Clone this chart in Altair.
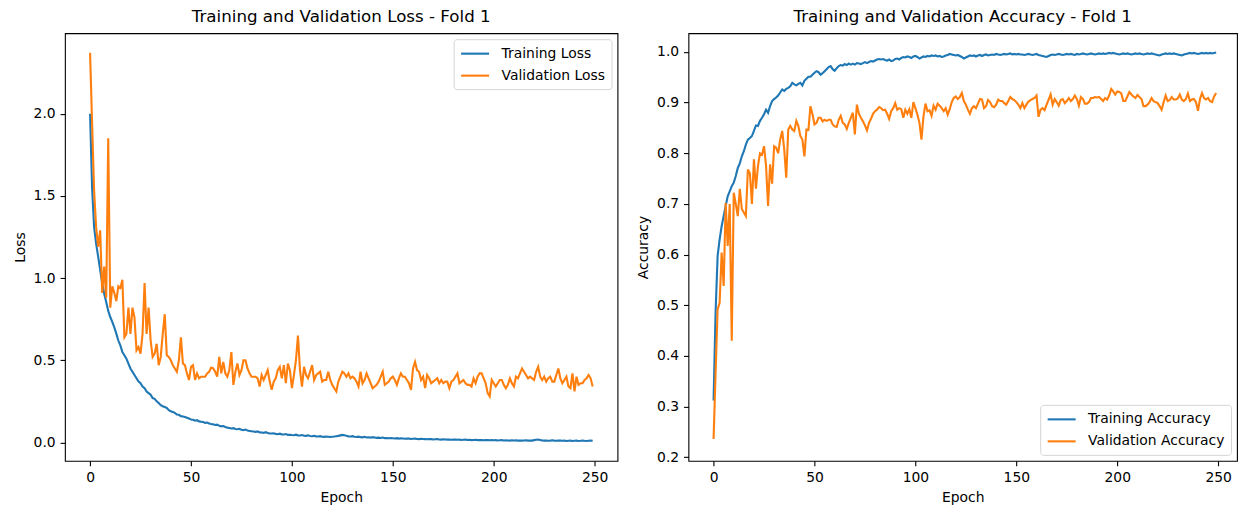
import altair as alt
import pandas as pd

# ---------------- data ----------------
train_loss = [
    2.00, 1.55, 1.31, 1.21, 1.13, 1.05, 0.97, 0.905, 0.855, 0.80,
    0.763, 0.733, 0.70, 0.662, 0.62, 0.59, 0.55, 0.53, 0.51, 0.48,
    0.45, 0.43, 0.41, 0.39, 0.37, 0.36, 0.34, 0.33, 0.31, 0.30,
    0.29, 0.27, 0.265, 0.25, 0.24, 0.227, 0.22, 0.215, 0.21, 0.196,
    0.19, 0.185, 0.18, 0.17, 0.168, 0.16, 0.158, 0.155, 0.15, 0.145,
    0.14,
    0.138, 0.132, 0.135, 0.128, 0.126, 0.124, 0.119, 0.121, 0.115, 0.112,
    0.110, 0.106, 0.108, 0.101, 0.098, 0.100, 0.094, 0.090, 0.088, 0.085,
    0.087, 0.082, 0.080, 0.083, 0.077, 0.074, 0.078, 0.072, 0.070, 0.068,
    0.066, 0.064, 0.067, 0.061, 0.060, 0.058, 0.062, 0.057, 0.055, 0.054,
    0.056, 0.052, 0.050, 0.053, 0.049, 0.048, 0.051, 0.046, 0.047, 0.045,
    0.044, 0.047, 0.043, 0.042, 0.045, 0.041, 0.040, 0.043, 0.039, 0.038,
    0.040, 0.037, 0.036, 0.038, 0.035, 0.034, 0.036, 0.035, 0.033, 0.035,
    0.036, 0.038, 0.040, 0.043, 0.046, 0.044, 0.040, 0.037, 0.036, 0.038,
    0.034, 0.033, 0.035, 0.032, 0.031, 0.034, 0.030, 0.031, 0.029, 0.032,
    0.030, 0.028, 0.029, 0.027, 0.030, 0.026, 0.027, 0.025, 0.026, 0.025,
    0.024, 0.026, 0.023, 0.025, 0.024, 0.022, 0.023, 0.024, 0.021, 0.022,
    0.023, 0.021, 0.020, 0.022, 0.021, 0.020, 0.019, 0.021, 0.020, 0.018,
    0.019, 0.020, 0.018, 0.017, 0.019, 0.018, 0.017, 0.018, 0.016, 0.017,
    0.018, 0.016, 0.017, 0.015, 0.016, 0.017, 0.015, 0.016, 0.014, 0.015,
    0.016, 0.014, 0.015, 0.014, 0.013, 0.015, 0.014, 0.013, 0.014, 0.013,
    0.014, 0.012, 0.013, 0.014, 0.012, 0.013, 0.012, 0.011, 0.013, 0.012,
    0.013, 0.011, 0.012, 0.011, 0.012, 0.013, 0.011, 0.012, 0.011, 0.014,
    0.016, 0.018, 0.015, 0.012, 0.011, 0.012, 0.010, 0.011, 0.013, 0.011,
    0.010, 0.012, 0.011, 0.010, 0.011, 0.009, 0.010, 0.011, 0.009, 0.010,
    0.011, 0.009, 0.010, 0.012, 0.010, 0.009, 0.010, 0.011, 0.010,
]

val_loss = [
    2.37, 1.94, 1.53, 1.31, 1.19, 1.29, 0.91, 1.07, 0.88, 1.85,
    0.82, 0.95, 0.91, 0.86, 0.95, 0.94, 0.99, 0.64, 0.66, 0.82,
    0.66, 0.82, 0.76, 0.56, 0.58, 0.54, 0.66, 0.97, 0.66, 0.82,
    0.62, 0.52, 0.54, 0.60, 0.47, 0.52, 0.66, 0.78, 0.53, 0.52,
    0.50, 0.47, 0.45, 0.43, 0.50, 0.64, 0.48, 0.47, 0.42, 0.38,
    0.46, 0.47, 0.38, 0.42, 0.39,
    0.40, 0.40, 0.40, 0.42, 0.43, 0.455, 0.45, 0.43, 0.40, 0.52,
    0.42, 0.49, 0.42, 0.40, 0.44, 0.55, 0.35, 0.43, 0.48, 0.41,
    0.44, 0.50, 0.50, 0.45, 0.42, 0.40, 0.40, 0.40, 0.39, 0.34,
    0.41, 0.38, 0.41, 0.44, 0.37, 0.32, 0.37, 0.39, 0.44, 0.46,
    0.39, 0.47, 0.36, 0.48, 0.44, 0.33, 0.41, 0.50, 0.65, 0.44,
    0.34, 0.46, 0.41, 0.39, 0.43, 0.47, 0.38, 0.41, 0.42, 0.43,
    0.37, 0.38, 0.38, 0.43, 0.38, 0.35, 0.33, 0.31, 0.37, 0.40,
    0.43, 0.42, 0.40, 0.42, 0.39, 0.40, 0.39, 0.37, 0.34, 0.43,
    0.36, 0.38, 0.42, 0.39, 0.36, 0.33, 0.34, 0.35, 0.37, 0.40,
    0.43, 0.35, 0.36, 0.37, 0.39, 0.40, 0.38, 0.35, 0.39,
    0.42, 0.40, 0.40, 0.38, 0.36, 0.32, 0.45, 0.49, 0.44, 0.43,
    0.38, 0.40, 0.33, 0.41, 0.39, 0.36, 0.37, 0.38, 0.39, 0.36,
    0.38, 0.36, 0.37, 0.37, 0.33, 0.37, 0.38, 0.40, 0.42, 0.36,
    0.37, 0.38, 0.36, 0.35, 0.35, 0.34, 0.39, 0.36, 0.40, 0.42,
    0.42, 0.39, 0.36, 0.30, 0.28, 0.38, 0.36, 0.34, 0.36, 0.38,
    0.38, 0.35, 0.33, 0.35, 0.39, 0.36, 0.34, 0.40, 0.39, 0.42,
    0.45, 0.43, 0.41, 0.39, 0.40, 0.39, 0.38, 0.43, 0.46, 0.40,
    0.38, 0.40, 0.37, 0.39, 0.40, 0.37, 0.37, 0.41, 0.45, 0.39,
    0.36, 0.38, 0.40, 0.34, 0.33, 0.42, 0.31, 0.40, 0.35, 0.36,
    0.36, 0.38, 0.39, 0.41, 0.39, 0.34,
]

train_acc = [
    0.312, 0.486, 0.597, 0.630, 0.656, 0.676, 0.696, 0.715, 0.725, 0.735,
    0.742, 0.755, 0.771, 0.780, 0.794, 0.804, 0.817, 0.827, 0.830, 0.834,
    0.844, 0.855, 0.854, 0.864, 0.870, 0.877, 0.886, 0.880, 0.893, 0.903,
    0.907, 0.910, 0.914, 0.920, 0.926, 0.923, 0.927, 0.929, 0.932, 0.939,
    0.936, 0.934, 0.937, 0.939, 0.934, 0.943, 0.947, 0.951, 0.951, 0.955,
    0.959, 0.962, 0.960,
    0.955, 0.958, 0.962, 0.966, 0.970, 0.972, 0.966, 0.963, 0.968, 0.972,
    0.974, 0.973, 0.976, 0.974, 0.977, 0.975, 0.977, 0.975, 0.978, 0.977,
    0.976, 0.978, 0.980, 0.978, 0.980, 0.982, 0.981, 0.983, 0.985, 0.986,
    0.985, 0.986, 0.984, 0.983, 0.985, 0.982, 0.983, 0.986, 0.987, 0.985,
    0.988, 0.990, 0.989, 0.991, 0.990, 0.988, 0.991, 0.992, 0.990, 0.987,
    0.989, 0.991, 0.990, 0.992, 0.991, 0.993, 0.992, 0.993, 0.991, 0.992,
    0.990, 0.991, 0.993, 0.994, 0.996, 0.995, 0.994, 0.993, 0.994, 0.992,
    0.990, 0.987, 0.989, 0.991, 0.993, 0.992, 0.993, 0.991, 0.993, 0.994,
    0.992, 0.994, 0.995, 0.993, 0.994, 0.995, 0.994, 0.996, 0.995, 0.994,
    0.995, 0.996, 0.995, 0.996, 0.997, 0.995, 0.996, 0.995, 0.996, 0.995,
    0.995, 0.994, 0.995, 0.996, 0.995, 0.994, 0.995, 0.996, 0.994, 0.993,
    0.992, 0.991, 0.990, 0.992, 0.994, 0.995, 0.994, 0.995, 0.996, 0.995,
    0.994, 0.995, 0.996, 0.995, 0.996, 0.995, 0.994, 0.996, 0.995, 0.996,
    0.997, 0.996, 0.995, 0.996, 0.997, 0.996, 0.995, 0.996, 0.997, 0.996,
    0.997, 0.996, 0.997, 0.998, 0.997, 0.998, 0.997, 0.996, 0.995, 0.996,
    0.997, 0.996, 0.997, 0.996, 0.995, 0.996, 0.997, 0.996, 0.997, 0.996,
    0.995, 0.996, 0.997, 0.996, 0.997, 0.996, 0.995, 0.994, 0.993, 0.995,
    0.996, 0.997, 0.996, 0.997, 0.996, 0.997, 0.996, 0.995, 0.994, 0.993,
    0.995, 0.996, 0.997, 0.998, 0.997, 0.998, 0.997, 0.996, 0.997, 0.998,
    0.997, 0.998, 0.997, 0.998, 0.997, 0.998, 0.999,
]

val_acc = [
    0.236, 0.367, 0.492, 0.505, 0.604, 0.538, 0.702, 0.617, 0.700, 0.430,
    0.722, 0.700, 0.676, 0.730, 0.690, 0.683, 0.676, 0.768, 0.760, 0.700,
    0.788, 0.730, 0.775, 0.800, 0.797, 0.814, 0.775, 0.696, 0.778, 0.740,
    0.814, 0.811, 0.800, 0.827, 0.844, 0.808, 0.752, 0.847, 0.854, 0.847,
    0.844, 0.864, 0.854, 0.834, 0.827, 0.794, 0.847, 0.846, 0.893, 0.877,
    0.857, 0.860, 0.870,
    0.870, 0.863, 0.866, 0.864, 0.866, 0.866, 0.857, 0.853, 0.852, 0.866,
    0.874, 0.860, 0.857, 0.848, 0.860, 0.870, 0.880, 0.837, 0.896, 0.878,
    0.870, 0.863, 0.855, 0.845, 0.860, 0.868, 0.878, 0.883, 0.886, 0.891,
    0.889, 0.885, 0.886, 0.878, 0.868, 0.883, 0.889, 0.899, 0.886, 0.889,
    0.887, 0.870, 0.886, 0.878, 0.887, 0.870, 0.901, 0.889, 0.876, 0.860,
    0.827, 0.873, 0.898, 0.883, 0.885, 0.874, 0.894, 0.886, 0.898, 0.894,
    0.889, 0.883, 0.889, 0.876, 0.887, 0.901, 0.909, 0.912, 0.907, 0.911,
    0.919, 0.903, 0.896, 0.886, 0.878, 0.889, 0.893, 0.889, 0.898, 0.907,
    0.906, 0.889, 0.893, 0.905, 0.901, 0.893, 0.891, 0.896, 0.906, 0.903,
    0.903, 0.899, 0.896, 0.903, 0.911, 0.907, 0.905, 0.901, 0.896, 0.889,
    0.899, 0.889, 0.896, 0.902, 0.905, 0.907, 0.909, 0.914, 0.872, 0.886,
    0.889, 0.885, 0.896, 0.906, 0.916, 0.896, 0.907, 0.901, 0.894, 0.905,
    0.907, 0.899, 0.903, 0.909, 0.903, 0.907, 0.914, 0.907, 0.894, 0.911,
    0.907, 0.898, 0.898, 0.901, 0.909, 0.909, 0.911, 0.910, 0.911, 0.907,
    0.903, 0.909, 0.906, 0.914, 0.927, 0.922, 0.916, 0.922, 0.921, 0.918,
    0.903, 0.903, 0.912, 0.921, 0.916, 0.912, 0.909, 0.915, 0.911, 0.907,
    0.893, 0.893, 0.896, 0.901, 0.909, 0.903, 0.901, 0.899, 0.893, 0.886,
    0.901, 0.914, 0.903, 0.905, 0.911, 0.906, 0.906, 0.908, 0.916, 0.906,
    0.903, 0.907, 0.918, 0.903, 0.906, 0.907, 0.901, 0.884, 0.907, 0.919,
    0.909, 0.906, 0.909, 0.903, 0.901, 0.912, 0.919,
]

loss_names = ["Training Loss", "Validation Loss"]
acc_names = ["Training Accuracy", "Validation Accuracy"]
x_ticks = [0, 50, 100, 150, 200, 250]
loss_ticks = [0.0, 0.5, 1.0, 1.5, 2.0]
acc_ticks = [0.2, 0.3, 0.4, 0.5, 0.6, 0.7, 0.8, 0.9, 1.0]
colors = ["#1f77b4", "#ff7f0e"]


def long_frame(series, names):
    rows = []
    for vals, name in zip(series, names):
        for i, v in enumerate(vals):
            rows.append({"Epoch": i, "value": v, "series": name})
    return pd.DataFrame(rows)


loss_df = long_frame([train_loss, val_loss], loss_names)
acc_df = long_frame([train_acc, val_acc], acc_names)

FONT = "DejaVu Sans"
PX_PER_EPOCH = 2.02
LEFT_W = 553
RIGHT_W = 549
H = 428
X_MIN = -12.45


def legend(orient):
    # a horizontal line symbol twice as long as its nominal size,
    # so that the legend rows stay compact like matplotlib's
    return alt.Legend(
        title=None, orient=orient, offset=6,
        symbolType="M-2,0H2", symbolSize=196, symbolStrokeWidth=2.1,
        symbolOffset=7,
        labelFont=FONT, labelFontSize=13.9, labelColor="black",
        labelOffset=18, padding=6, rowPadding=6,
        strokeColor="#d5d5d5", fillColor="rgba(255,255,255,0.8)",
        cornerRadius=3,
    )


def title(text):
    return alt.TitleParams(
        text=text, font=FONT, fontSize=16.7, fontWeight="normal",
        anchor="middle", frame="group", offset=7, color="black",
    )


def panel(df, names, ytitle, ydom, yticks, width, leg_orient, ttl):
    x_max = X_MIN + width / PX_PER_EPOCH
    return (
        alt.Chart(df)
        .mark_line(strokeWidth=2.1)
        .encode(
            x=alt.X("Epoch:Q", title="Epoch",
                    scale=alt.Scale(domain=[X_MIN, x_max], nice=False, zero=False),
                    axis=alt.Axis(values=x_ticks, format="d")),
            y=alt.Y("value:Q", title=ytitle,
                    scale=alt.Scale(domain=ydom, nice=False, zero=False),
                    axis=alt.Axis(values=yticks, format=".1f")),
            color=alt.Color("series:N",
                            scale=alt.Scale(domain=names, range=colors),
                            legend=legend(leg_orient)),
            order="Epoch:Q",
        )
        .properties(width=width, height=H, title=title(ttl))
    )


left = panel(loss_df, loss_names, "Loss", [-0.112, 2.49], loss_ticks,
             LEFT_W, "top-right", "Training and Validation Loss - Fold 1")
right = panel(acc_df, acc_names, "Accuracy", [0.193, 1.037], acc_ticks,
              RIGHT_W, "bottom-right", "Training and Validation Accuracy - Fold 1")

chart = (
    alt.hconcat(left, right, spacing=17)
    .resolve_scale(color="independent", y="independent", x="independent")
    .configure(padding={"left": 12, "top": 8, "right": 0, "bottom": 0})
    .configure_view(stroke="black", strokeWidth=1.1)
    .configure_axis(
        labelFont=FONT, titleFont=FONT, labelFontSize=13.9, titleFontSize=13.9,
        titleFontWeight="normal", labelColor="black", titleColor="black",
        tickColor="black", tickSize=4.9, tickWidth=1.1, labelPadding=4.9,
        titlePadding=5.6, grid=False, domain=False,
    )
)

chart.save("out.html", embed_options={"renderer": "svg", "actions": False})
